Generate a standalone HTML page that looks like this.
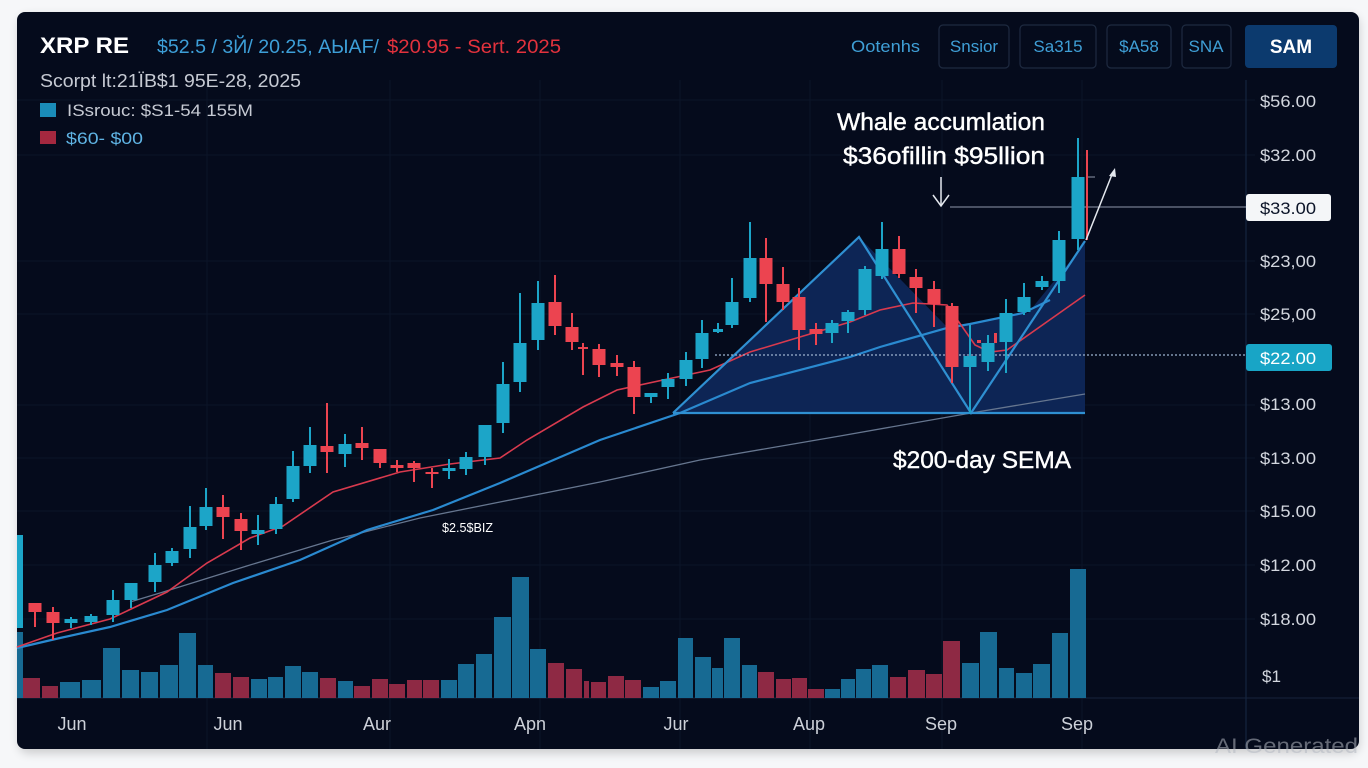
<!DOCTYPE html>
<html><head><meta charset="utf-8"><style>
html,body{margin:0;padding:0;background:#f5f6f8;}
svg{display:block;}
text{font-family:"Liberation Sans","DejaVu Sans",sans-serif;}
</style></head><body>
<svg width="1368" height="768" viewBox="0 0 1368 768" xmlns="http://www.w3.org/2000/svg">
<defs>
<filter id="sh" x="-5%" y="-5%" width="110%" height="115%"><feGaussianBlur stdDeviation="5"/></filter>
</defs>
<rect width="1368" height="768" fill="#f6f7f9"/>
<rect x="19" y="16" width="1340" height="737" rx="9" fill="#000" opacity="0.18" filter="url(#sh)"/>
<rect x="17" y="12" width="1342" height="737" rx="8" fill="#050b1c"/>

<!-- grid -->
<g stroke="#0c1528" stroke-width="1">
<line x1="17" y1="100" x2="1255" y2="100"/>
<line x1="17" y1="155" x2="1255" y2="155"/>
<line x1="17" y1="261" x2="1255" y2="261"/>
<line x1="17" y1="314" x2="1255" y2="314"/>
<line x1="17" y1="405" x2="1255" y2="405"/>
<line x1="17" y1="458" x2="1255" y2="458"/>
<line x1="17" y1="511" x2="1255" y2="511"/>
<line x1="17" y1="565" x2="1255" y2="565"/>
<line x1="17" y1="619" x2="1255" y2="619"/>
<line x1="207" y1="80" x2="207" y2="749"/>
<line x1="390" y1="80" x2="390" y2="749"/>
<line x1="540" y1="80" x2="540" y2="749"/>
<line x1="680" y1="80" x2="680" y2="749"/>
<line x1="810" y1="80" x2="810" y2="749"/>
<line x1="942" y1="80" x2="942" y2="749"/>
<line x1="1082" y1="80" x2="1082" y2="749"/>
</g>
<line x1="17" y1="698" x2="1359" y2="698" stroke="#17233b" stroke-width="1"/>
<line x1="1246" y1="80" x2="1246" y2="749" stroke="#14253f" stroke-width="1.2"/>

<!-- header -->
<text x="40" y="53" font-size="22" font-weight="bold" fill="#ffffff" textLength="89" lengthAdjust="spacingAndGlyphs">XRP RE</text>
<text x="157" y="53" font-size="19" fill="#3d9fd8" textLength="222" lengthAdjust="spacingAndGlyphs">$52.5 / 3Й/ 20.25, AЫAF/</text>
<text x="387" y="53" font-size="19" fill="#e3323d" textLength="174" lengthAdjust="spacingAndGlyphs">$20.95 - Sert. 2025</text>
<text x="40" y="87" font-size="18" fill="#c6cad3" textLength="261" lengthAdjust="spacingAndGlyphs">Scorpt lt:21ÏB$1 95E-28, 2025</text>
<rect x="40" y="103" width="16" height="14" fill="#1a8cb8"/>
<text x="67" y="116" font-size="17" fill="#c6cad3" textLength="186" lengthAdjust="spacingAndGlyphs">ISsrouc: $S1-54 155M</text>
<rect x="40" y="131" width="16" height="13" fill="#a4283f"/>
<text x="66" y="144" font-size="17" fill="#5fb3e3" textLength="77" lengthAdjust="spacingAndGlyphs">$60- $00</text>

<!-- buttons -->
<text x="851" y="52" font-size="17" fill="#3f9fd6" textLength="69" lengthAdjust="spacingAndGlyphs">Ootenhs</text>
<g fill="none" stroke="#1e2a40" stroke-width="1.2">
<rect x="939" y="25" width="70" height="43" rx="4"/>
<rect x="1020" y="25" width="76" height="43" rx="4"/>
<rect x="1107" y="25" width="64" height="43" rx="4"/>
<rect x="1182" y="25" width="49" height="43" rx="4"/>
</g>
<g font-size="17" fill="#3f9fd6" text-anchor="middle">
<text x="974" y="52">Snsior</text>
<text x="1058" y="52">Sa315</text>
<text x="1139" y="52">$A58</text>
<text x="1206" y="52">SNA</text>
</g>
<rect x="1245" y="25" width="92" height="43" rx="4" fill="#0c3a6e"/>
<text x="1291" y="53" font-size="19" font-weight="bold" fill="#ffffff" text-anchor="middle">SAM</text>

<!-- volume bars -->
<g fill="#176a93">
<rect x="17" y="632" width="6" height="66"/>
<rect x="60" y="682" width="20" height="16"/>
<rect x="82" y="680" width="19" height="18"/>
<rect x="103" y="648" width="17" height="50"/>
<rect x="122" y="670" width="17" height="28"/>
<rect x="141" y="672" width="17" height="26"/>
<rect x="160" y="665" width="18" height="33"/>
<rect x="179" y="633" width="17" height="65"/>
<rect x="198" y="665" width="15" height="33"/>
<rect x="251" y="679" width="16" height="19"/>
<rect x="268" y="677" width="15" height="21"/>
<rect x="285" y="666" width="16" height="32"/>
<rect x="302" y="672" width="16" height="26"/>
<rect x="338" y="681" width="15" height="17"/>
<rect x="441" y="680" width="16" height="18"/>
<rect x="458" y="664" width="16" height="34"/>
<rect x="476" y="654" width="16" height="44"/>
<rect x="494" y="617" width="17" height="81"/>
<rect x="512" y="577" width="17" height="121"/>
<rect x="530" y="649" width="16" height="49"/>
<rect x="643" y="687" width="16" height="11"/>
<rect x="660" y="681" width="16" height="17"/>
<rect x="678" y="638" width="15" height="60"/>
<rect x="695" y="657" width="16" height="41"/>
<rect x="712" y="668" width="11" height="30"/>
<rect x="724" y="638" width="16" height="60"/>
<rect x="742" y="665" width="15" height="33"/>
<rect x="825" y="689" width="15" height="9"/>
<rect x="841" y="679" width="14" height="19"/>
<rect x="856" y="669" width="15" height="29"/>
<rect x="872" y="665" width="16" height="33"/>
<rect x="962" y="663" width="17" height="35"/>
<rect x="980" y="632" width="17" height="66"/>
<rect x="999" y="668" width="15" height="30"/>
<rect x="1016" y="673" width="16" height="25"/>
<rect x="1033" y="664" width="17" height="34"/>
<rect x="1052" y="633" width="16" height="65"/>
<rect x="1070" y="569" width="16" height="129"/>
</g>
<g fill="#8e2944">
<rect x="23" y="678" width="17" height="20"/>
<rect x="42" y="686" width="16" height="12"/>
<rect x="215" y="673" width="16" height="25"/>
<rect x="233" y="677" width="16" height="21"/>
<rect x="320" y="678" width="16" height="20"/>
<rect x="354" y="686" width="16" height="12"/>
<rect x="372" y="679" width="16" height="19"/>
<rect x="389" y="684" width="16" height="14"/>
<rect x="407" y="680" width="15" height="18"/>
<rect x="423" y="680" width="16" height="18"/>
<rect x="548" y="663" width="16" height="35"/>
<rect x="566" y="669" width="16" height="29"/>
<rect x="584" y="681" width="5" height="17"/>
<rect x="591" y="682" width="15" height="16"/>
<rect x="608" y="676" width="16" height="22"/>
<rect x="625" y="680" width="16" height="18"/>
<rect x="758" y="672" width="16" height="26"/>
<rect x="776" y="679" width="15" height="19"/>
<rect x="792" y="678" width="15" height="20"/>
<rect x="808" y="689" width="16" height="9"/>
<rect x="890" y="677" width="16" height="21"/>
<rect x="908" y="670" width="17" height="28"/>
<rect x="926" y="674" width="16" height="24"/>
<rect x="943" y="641" width="17" height="57"/>
</g>

<!-- pattern fill -->
<polygon points="673,413 859,237 948,328 970,324 1028,313 1085,243 1085,413" fill="#0d2555"/>

<!-- moving averages -->
<polyline fill="none" stroke="#66768f" stroke-width="1.3" points="130,602 160,593 250,565 333,540 420,518 500,502 600,482 700,460 840,436 971,413 1085,394"/>
<polyline fill="none" stroke="#2a8ad0" stroke-width="2.2" points="17,648 60,638 110,627 167,610 233,583 300,560 367,530 433,510 500,483 600,440 680,413 750,383 850,357 880,347 947,328 970,324 1023,313 1050,300"/>
<polyline fill="none" stroke="#d83a4e" stroke-width="1.6" points="17,647 57,633 110,619 167,592 207,563 250,538 283,526 333,492 400,472 450,464 500,458 527,440 583,407 617,390 663,380 710,370 750,352 800,337 850,322 880,310 913,303 947,305 975,345 990,352 1007,350 1085,295"/>

<!-- triangle lines -->
<g fill="none" stroke="#2f90d2" stroke-width="2.2">
<polyline points="673,413 859,237 971,413 1085,241"/>
<line x1="673" y1="413" x2="1085" y2="413"/>
</g>

<!-- dotted + price lines -->
<line x1="715" y1="355" x2="1246" y2="355" stroke="#9db2cf" stroke-width="1.2" stroke-dasharray="2,2"/>
<line x1="950" y1="207" x2="1246" y2="207" stroke="#8e97aa" stroke-width="1"/>

<!-- candles -->
<g fill="#1ca5c8">
<rect x="17" y="535" width="6" height="93"/>
<rect x="70" y="617" width="2" height="11"/><rect x="64.5" y="619" width="13" height="4"/>
<rect x="90" y="614" width="2" height="11"/><rect x="84.5" y="616" width="13" height="6"/>
<rect x="112" y="590" width="2" height="32"/><rect x="106.5" y="600" width="13" height="15"/>
<rect x="130" y="583" width="2" height="25"/><rect x="124.5" y="583" width="13" height="17"/>
<rect x="154" y="553" width="2" height="39"/><rect x="148.5" y="565" width="13" height="17"/>
<rect x="171" y="548" width="2" height="18"/><rect x="165.5" y="551" width="13" height="12"/>
<rect x="189" y="506" width="2" height="52"/><rect x="183.5" y="527" width="13" height="22"/>
<rect x="205" y="488" width="2" height="42"/><rect x="199.5" y="507" width="13" height="19"/>
<rect x="257" y="515" width="2" height="30"/><rect x="251.5" y="530" width="13" height="4"/>
<rect x="275" y="497" width="2" height="37"/><rect x="269.5" y="504" width="13" height="25"/>
<rect x="292" y="451" width="2" height="51"/><rect x="286.5" y="466" width="13" height="33"/>
<rect x="309" y="427" width="2" height="46"/><rect x="303.5" y="445" width="13" height="21"/>
<rect x="344" y="434" width="2" height="33"/><rect x="338.5" y="444" width="13" height="10"/>
<rect x="448" y="459" width="2" height="20"/><rect x="442.5" y="468" width="13" height="3"/>
<rect x="465" y="452" width="2" height="23"/><rect x="459.5" y="457" width="13" height="12"/>
<rect x="484" y="425" width="2" height="40"/><rect x="478.5" y="425" width="13" height="32"/>
<rect x="502" y="362" width="2" height="71"/><rect x="496.5" y="384" width="13" height="39"/>
<rect x="519" y="293" width="2" height="99"/><rect x="513.5" y="343" width="13" height="39"/>
<rect x="537" y="281" width="2" height="69"/><rect x="531.5" y="303" width="13" height="37"/>
<rect x="650" y="393" width="2" height="10"/><rect x="644.5" y="393" width="13" height="4"/>
<rect x="667" y="373" width="2" height="26"/><rect x="661.5" y="379" width="13" height="8"/>
<rect x="685" y="352" width="2" height="34"/><rect x="679.5" y="360" width="13" height="19"/>
<rect x="701" y="320" width="2" height="48"/><rect x="695.5" y="333" width="13" height="26"/>
<rect x="717" y="323" width="2" height="10"/><rect x="713" y="329" width="10" height="3"/>
<rect x="731" y="278" width="2" height="50"/><rect x="725.5" y="302" width="13" height="23"/>
<rect x="749" y="222" width="2" height="80"/><rect x="743.5" y="258" width="13" height="40"/>
<rect x="831" y="320" width="2" height="23"/><rect x="825.5" y="323" width="13" height="10"/>
<rect x="847" y="310" width="2" height="23"/><rect x="841.5" y="312" width="13" height="9"/>
<rect x="864" y="266" width="2" height="49"/><rect x="858.5" y="269" width="13" height="41"/>
<rect x="881" y="222" width="2" height="57"/><rect x="875.5" y="249" width="13" height="27"/>
<rect x="969" y="325" width="2" height="88"/><rect x="963.5" y="356" width="13" height="11"/>
<rect x="987" y="335" width="2" height="36"/><rect x="981.5" y="343" width="13" height="19"/>
<rect x="1005" y="299" width="2" height="74"/><rect x="999.5" y="313" width="13" height="29"/>
<rect x="1023" y="283" width="2" height="32"/><rect x="1017.5" y="297" width="13" height="15"/>
<rect x="1041" y="276" width="2" height="14"/><rect x="1035.5" y="281" width="13" height="6"/>
<rect x="1058" y="231" width="2" height="62"/><rect x="1052.5" y="240" width="13" height="41"/>
<rect x="1077" y="138" width="2" height="112"/><rect x="1071.5" y="177" width="13" height="62"/>
</g>
<g fill="#ec4450">
<rect x="34" y="603" width="2" height="24"/><rect x="28.5" y="603" width="13" height="9"/>
<rect x="52" y="607" width="2" height="33"/><rect x="46.5" y="612" width="13" height="11"/>
<rect x="222" y="495" width="2" height="44"/><rect x="216.5" y="507" width="13" height="10"/>
<rect x="240" y="513" width="2" height="37"/><rect x="234.5" y="519" width="13" height="12"/>
<rect x="326" y="403" width="2" height="70"/><rect x="320.5" y="446" width="13" height="6"/>
<rect x="361" y="427" width="2" height="33"/><rect x="355.5" y="443" width="13" height="5"/>
<rect x="379" y="449" width="2" height="19"/><rect x="373.5" y="449" width="13" height="14"/>
<rect x="396" y="460" width="2" height="12"/><rect x="390.5" y="465" width="13" height="3"/>
<rect x="413" y="461" width="2" height="21"/><rect x="407.5" y="463" width="13" height="5"/>
<rect x="431" y="468" width="2" height="20"/><rect x="425.5" y="472" width="13" height="2"/>
<rect x="554" y="275" width="2" height="60"/><rect x="548.5" y="302" width="13" height="24"/>
<rect x="571" y="313" width="2" height="37"/><rect x="565.5" y="327" width="13" height="15"/>
<rect x="582" y="343" width="2" height="32"/><rect x="578" y="347" width="10" height="2"/>
<rect x="598" y="344" width="2" height="33"/><rect x="592.5" y="349" width="13" height="16"/>
<rect x="616" y="355" width="2" height="21"/><rect x="610.5" y="363" width="13" height="4"/>
<rect x="633" y="361" width="2" height="53"/><rect x="627.5" y="367" width="13" height="30"/>
<rect x="765" y="238" width="2" height="84"/><rect x="759.5" y="258" width="13" height="26"/>
<rect x="782" y="267" width="2" height="43"/><rect x="776.5" y="284" width="13" height="18"/>
<rect x="798" y="288" width="2" height="62"/><rect x="792.5" y="297" width="13" height="33"/>
<rect x="815" y="323" width="2" height="22"/><rect x="809.5" y="329" width="13" height="5"/>
<rect x="898" y="236" width="2" height="42"/><rect x="892.5" y="249" width="13" height="25"/>
<rect x="915" y="269" width="2" height="44"/><rect x="909.5" y="277" width="13" height="11"/>
<rect x="933" y="281" width="2" height="46"/><rect x="927.5" y="289" width="13" height="15"/>
<rect x="951" y="303" width="2" height="80"/><rect x="945.5" y="306" width="13" height="61"/>
<rect x="977" y="340" width="4" height="3"/>
<rect x="994" y="333" width="3" height="10"/>
<rect x="1086" y="150" width="2" height="90"/>
</g>
<line x1="1088" y1="177" x2="1095" y2="177" stroke="#8e97aa" stroke-width="1"/>

<!-- arrows -->
<g stroke="#e4e8ee" stroke-width="1.5" fill="none">
<line x1="941" y1="177" x2="941" y2="206"/>
<polyline points="933,195 941,206 949,195"/>
<line x1="1086" y1="240" x2="1113" y2="172"/>
</g>
<polygon points="1115,168 1109,176 1116,177" fill="#e4e8ee"/>

<!-- annotations -->
<g fill="#ffffff" stroke="#ffffff" stroke-width="0.4">
<text x="837" y="130" font-size="24" textLength="208" lengthAdjust="spacingAndGlyphs">Whale accumlation</text>
<text x="843" y="164" font-size="24" textLength="202" lengthAdjust="spacingAndGlyphs">$36ofillin  $95llion</text>
<text x="893" y="468" font-size="24" textLength="178" lengthAdjust="spacingAndGlyphs">$200-day SEMA</text>
</g>
<text x="442" y="532" font-size="13" fill="#ffffff" textLength="51" lengthAdjust="spacingAndGlyphs">$2.5$BIZ</text>

<!-- price axis -->
<g font-size="17" fill="#d3d7df">
<text x="1260" y="107" textLength="56" lengthAdjust="spacingAndGlyphs">$56.00</text>
<text x="1260" y="161" textLength="56" lengthAdjust="spacingAndGlyphs">$32.00</text>
<text x="1260" y="267" textLength="56" lengthAdjust="spacingAndGlyphs">$23,00</text>
<text x="1260" y="320" textLength="56" lengthAdjust="spacingAndGlyphs">$25,00</text>
<text x="1260" y="410" textLength="56" lengthAdjust="spacingAndGlyphs">$13.00</text>
<text x="1260" y="464" textLength="56" lengthAdjust="spacingAndGlyphs">$13.00</text>
<text x="1260" y="517" textLength="56" lengthAdjust="spacingAndGlyphs">$15.00</text>
<text x="1260" y="571" textLength="56" lengthAdjust="spacingAndGlyphs">$12.00</text>
<text x="1260" y="625" textLength="56" lengthAdjust="spacingAndGlyphs">$18.00</text>
<text x="1262" y="682" textLength="19" lengthAdjust="spacingAndGlyphs">$1</text>
</g>
<rect x="1246" y="194" width="85" height="27" rx="3" fill="#f4f6f8"/>
<text x="1260" y="214" font-size="17" fill="#0b1428" textLength="56" lengthAdjust="spacingAndGlyphs">$33.00</text>
<rect x="1246" y="344" width="86" height="27" rx="3" fill="#18a5c6"/>
<text x="1260" y="364" font-size="17" fill="#ffffff" textLength="56" lengthAdjust="spacingAndGlyphs">$22.00</text>

<!-- x axis -->
<g font-size="18" fill="#cdd1d9" text-anchor="middle">
<text x="72" y="730">Jun</text>
<text x="228" y="730">Jun</text>
<text x="377" y="730">Aur</text>
<text x="530" y="730">Apn</text>
<text x="676" y="730">Jur</text>
<text x="809" y="730">Aup</text>
<text x="941" y="730">Sep</text>
<text x="1077" y="730">Sep</text>
</g>

<!-- watermark -->
<text x="1215" y="753" font-size="21" fill="#b4b9c2" opacity="0.55" textLength="143" lengthAdjust="spacingAndGlyphs">AI Generated</text>
</svg>
</body></html>
